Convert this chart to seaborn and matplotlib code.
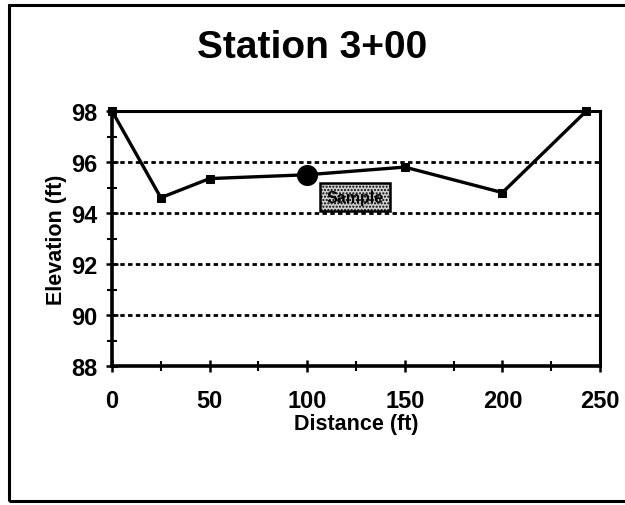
import matplotlib
matplotlib.use("Agg")
import matplotlib.pyplot as plt
from matplotlib.patches import Rectangle
from matplotlib.ticker import MultipleLocator
import pandas as pd
import seaborn as sns

# Cross-section survey at Station 3+00
distance_ft = [0, 25, 50, 100, 150, 200, 243]
elevation_ft = [98.0, 94.6, 95.35, 95.5, 95.8, 94.8, 98.0]
sample_distance = 100
sample_elevation = 95.5
sample_label = "Sample"
x_ticks = [0, 50, 100, 150, 200, 250]
y_ticks = [88, 90, 92, 94, 96, 98]

df = pd.DataFrame({"Distance (ft)": distance_ft, "Elevation (ft)": elevation_ft})

sns.set_theme(style="white")
plt.rcParams["font.family"] = ["Liberation Sans", "DejaVu Sans"]
plt.rcParams["font.weight"] = "bold"
plt.rcParams["text.color"] = "black"
plt.rcParams["axes.labelcolor"] = "black"
plt.rcParams["xtick.color"] = "black"
plt.rcParams["ytick.color"] = "black"

fig = plt.figure(figsize=(6.25, 5.06), dpi=100)
ax = fig.add_axes([112 / 625, 1 - 367 / 506, (600 - 112) / 625, (367 - 112) / 506])

# dotted horizontal gridlines
for yv in y_ticks[1:-1]:
    ax.axhline(yv, color="black", lw=2.0, ls=(0, (1.6, 1.2)), zorder=1)

sns.lineplot(data=df, x="Distance (ft)", y="Elevation (ft)", ax=ax,
             color="black", lw=2.4, marker="s", markersize=6,
             markeredgecolor="black", zorder=3, clip_on=False)

# sample location: a slightly flattened dot
ax.scatter([sample_distance], [sample_elevation], s=230, marker="o",
           color="black", zorder=4, linewidths=0)
ax.scatter([sample_distance], [sample_elevation], s=200, marker=(20, 0, 90),
           color="black", zorder=4, linewidths=0)

ax.text(124.5, 94.62, sample_label, ha="center", va="center", fontsize=11.5,
        fontweight="bold", color="black", zorder=5,
        bbox=dict(boxstyle="square,pad=0.42", fc="#cfcfcf", ec="black",
                  lw=1.8, hatch="....."))

ax.set_xlim(0, 250)
ax.set_ylim(88, 98)
ax.set_xticks(x_ticks)
ax.set_yticks(y_ticks)
ax.xaxis.set_minor_locator(MultipleLocator(25))
ax.yaxis.set_minor_locator(MultipleLocator(1))
ax.tick_params(axis="both", which="major", direction="inout", length=9,
               width=1.8, color="black", labelsize=17, labelcolor="black")
ax.tick_params(axis="x", which="major", pad=12)
ax.tick_params(axis="y", which="major", pad=6)
ax.tick_params(axis="both", which="minor", direction="inout", length=7,
               width=1.5, color="black")
ax.tick_params(axis="x", which="both", bottom=True)
ax.tick_params(axis="y", which="both", left=True)
for lab in ax.get_xticklabels() + ax.get_yticklabels():
    lab.set_fontweight("bold")

ax.set_xlabel("Distance (ft)", fontsize=15.5, fontweight="bold", labelpad=1,
              color="black")
ax.set_ylabel("Elevation (ft)", fontsize=15.5, fontweight="bold", labelpad=3,
              color="black")

for side in ["left", "bottom"]:
    ax.spines[side].set_linewidth(2.6)
for side in ["top", "right"]:
    ax.spines[side].set_linewidth(2.2)
for sp in ax.spines.values():
    sp.set_color("black")
    sp.set_visible(True)

fig.text(0.5, 1 - 48 / 506, "Station 3+00", ha="center", va="center",
         fontsize=28, fontweight="bold", color="black")

# outer frame around the whole slide
fig.patches.append(Rectangle((9 / 625, 4 / 506), 0.995, 1 - 10 / 506,
                             transform=fig.transFigure, fill=False,
                             ec="black", lw=2.2))

fig.savefig("out.png", dpi=100, facecolor="white")
